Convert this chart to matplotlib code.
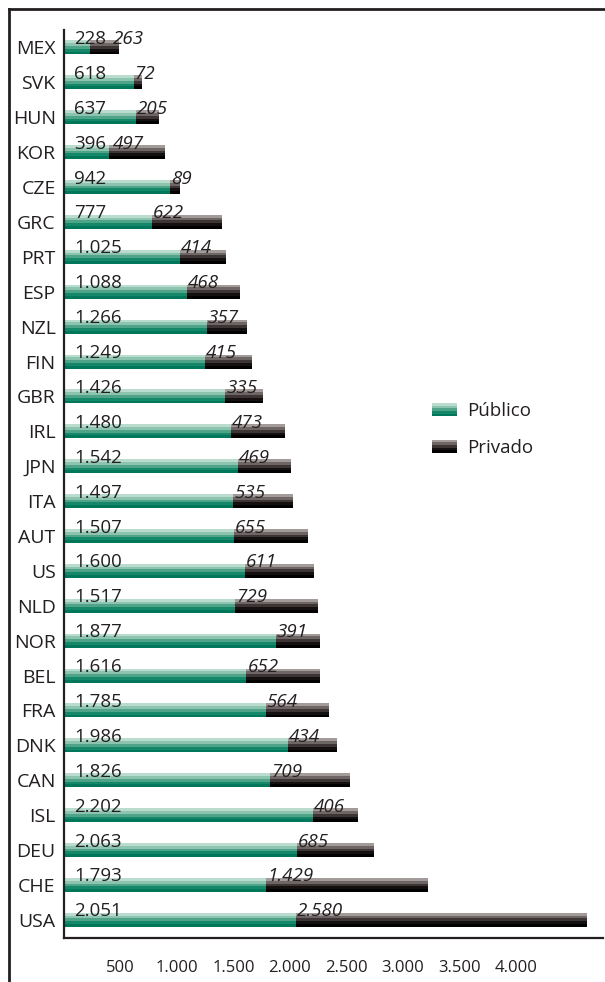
import matplotlib
matplotlib.use("Agg")
import matplotlib.pyplot as plt
from matplotlib.patches import Rectangle
from matplotlib.legend_handler import HandlerBase
from matplotlib.lines import Line2D

plt.rcParams['font.family'] = ['Open Sans', 'DejaVu Sans']

countries = ["MEX", "SVK", "HUN", "KOR", "CZE", "GRC", "PRT", "ESP", "NZL", "FIN",
             "GBR", "IRL", "JPN", "ITA", "AUT", "US", "NLD", "NOR", "BEL", "FRA",
             "DNK", "CAN", "ISL", "DEU", "CHE", "USA"]
publico = [228, 618, 637, 396, 942, 777, 1025, 1088, 1266, 1249,
           1426, 1480, 1542, 1497, 1507, 1600, 1517, 1877, 1616, 1785,
           1986, 1826, 2202, 2063, 1793, 2051]
privado = [263, 72, 205, 497, 89, 622, 414, 468, 357, 415,
           335, 473, 469, 535, 655, 611, 729, 391, 652, 564,
           434, 709, 406, 685, 1429, 2580]
xticks = [500, 1000, 1500, 2000, 2500, 3000, 3500, 4000]

green = ['#b9dccf', '#8cc4b0', '#4fa388', '#16886a', '#00775a']
black = ['#a39a9a', '#6e6565', '#3d3535', '#151010', '#000000']

def fmt(v):
    return f"{v:,}".replace(",", ".")

fig = plt.figure(figsize=(6.05, 9.82), dpi=100)
ax = fig.add_axes([64/605, 1-938/982, (603-64)/605, (938-30)/982])

n = len(countries)
ypos = list(range(n))
h = 0.40
ns = len(green)
for k in range(ns):
    yk = [y - h/2 + (k + 0.5) * h / ns for y in ypos]
    ax.barh(yk, publico, height=h/ns + 0.002, color=green[k], edgecolor='none', linewidth=0)
    ax.barh(yk, privado, left=publico, height=h/ns + 0.002, color=black[k], edgecolor='none', linewidth=0)

for i in range(n):
    ytop = i - h/2 + 0.10
    ax.text(90, ytop, fmt(publico[i]), ha='left', va='baseline', fontsize=13.5, color='#231f20')
    xp = max(publico[i] + 10, 430)
    ax.text(xp, ytop, fmt(privado[i]), ha='left', va='baseline', fontsize=13.5,
            color='#231f20', style='italic')

ax.set_ylim(n - 0.48, -0.5)
ax.set_xlim(0, 4774)
ax.set_yticks(ypos)
ax.set_yticklabels(countries, fontsize=14, color='#231f20')
ax.set_xticks(xticks)
ax.set_xticklabels([fmt(v) for v in xticks], fontsize=12, color='#231f20')
ax.tick_params(axis='y', length=0, pad=6)
ax.tick_params(axis='x', length=0, pad=16)
for s in ['top', 'right']:
    ax.spines[s].set_visible(False)
for s in ['left', 'bottom']:
    ax.spines[s].set_linewidth(1.6)
    ax.spines[s].set_color('#231f20')


class HandlerStripes(HandlerBase):
    def __init__(self, colors):
        super().__init__()
        self.colors = colors

    def create_artists(self, legend, orig_handle, xdescent, ydescent, width, height, fontsize, trans):
        m = len(self.colors)
        arts = []
        for i, c in enumerate(self.colors):
            r = Rectangle((-xdescent, -ydescent + height * (m - 1 - i) / m), width, height / m,
                          facecolor=c, edgecolor='none', transform=trans)
            arts.append(r)
        return arts


h1 = Rectangle((0, 0), 1, 1)
h2 = Rectangle((0, 0), 1, 1)
leg = ax.legend([h1, h2], ["Público", "Privado"],
                handler_map={h1: HandlerStripes(green), h2: HandlerStripes(black)},
                loc='center left', bbox_to_anchor=(0.652, 0.56), frameon=False,
                fontsize=13.5, handlelength=1.3, handleheight=0.7, labelspacing=1.0,
                handletextpad=0.55)
for t in leg.get_texts():
    t.set_color('#231f20')

fig.add_artist(Line2D([9/605, 1.0], [1-9/982, 1-9/982], transform=fig.transFigure,
                      color='#231f20', linewidth=2))
fig.add_artist(Line2D([9/605, 9/605], [0, 1-9/982], transform=fig.transFigure,
                      color='#231f20', linewidth=2))

fig.savefig("out.png", dpi=100)
